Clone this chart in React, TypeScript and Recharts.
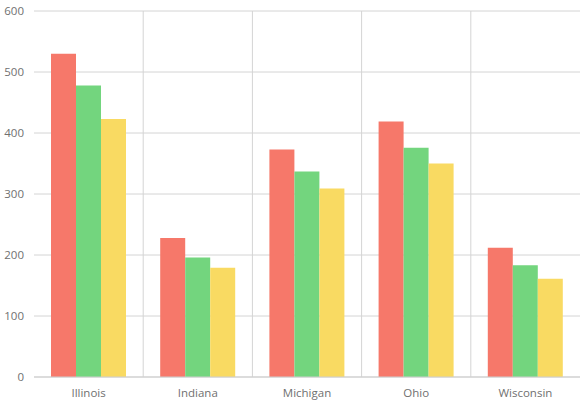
import React from 'react';
import { BarChart, Bar, XAxis, YAxis, CartesianGrid } from 'recharts';

const states = ['Illinois', 'Indiana', 'Michigan', 'Ohio', 'Wisconsin'];
const series1 = [530, 228, 373, 419, 212];
const series2 = [478, 196, 337, 376, 183];
const series3 = [423, 179, 309, 350, 161];
const yTicks = [0, 100, 200, 300, 400, 500, 600];
const boundaryIndices = [1, 2, 3, 4];

const data = states.map((s, i) => ({ state: s, a: series1[i], b: series2[i], c: series3[i] }));

const font = "'Segoe UI', 'Open Sans', 'Noto Sans', sans-serif";

export default function App() {
  return (
    <div style={{ position: 'absolute', left: 0, top: 0, width: 586, height: 406, background: '#fff' }}>
      <BarChart
        width={586}
        height={406}
        data={data}
        margin={{ top: 11, right: 6, bottom: 0, left: 0 }}
        barCategoryGap={17}
        barGap={0}
      >
        <CartesianGrid
          stroke="#d4d4d4"
          verticalCoordinatesGenerator={({ offset }: any) =>
            boundaryIndices.map((i) => offset.left + (offset.width * i) / states.length)
          }
        />
        <XAxis
          dataKey="state"
          height={29}
          tickLine={false}
          axisLine={{ stroke: '#cfcfcf' }}
          tick={{ fill: '#707070', fontSize: 11.5, fontFamily: font }}
          tickMargin={6}
        />
        <YAxis
          width={34}
          domain={[0, 600]}
          ticks={yTicks}
          tickLine={false}
          axisLine={false}
          tick={{ fill: '#707070', fontSize: 11.5, fontFamily: font }}
          tickMargin={4}
        />
        <Bar dataKey="a" fill="#F6786A" isAnimationActive={false} />
        <Bar dataKey="b" fill="#73D57E" isAnimationActive={false} />
        <Bar dataKey="c" fill="#F9DA62" isAnimationActive={false} />
      </BarChart>
    </div>
  );
}
